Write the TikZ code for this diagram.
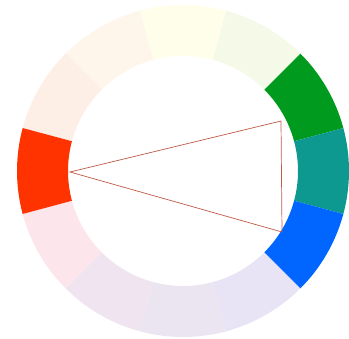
\documentclass[tikz,border=0pt]{standalone}
\definecolor{wheelred}{HTML}{FF3300}
\definecolor{wheelgreen}{HTML}{009A1E}
\definecolor{wheelteal}{HTML}{0E9990}
\definecolor{wheelblue}{HTML}{0066FF}
\definecolor{triline}{HTML}{BF5A45}
\definecolor{paleA}{HTML}{F5FAE8}
\definecolor{paleB}{HTML}{FFFEEB}
\definecolor{paleC}{HTML}{FEF6EA}
\definecolor{paleD}{HTML}{FDEEE6}
\definecolor{paleE}{HTML}{FCE5EB}
\definecolor{paleF}{HTML}{EFE4F0}
\definecolor{paleG}{HTML}{EAE5F0}
\definecolor{paleH}{HTML}{E8E4F5}
\begin{document}
\begin{tikzpicture}[x=0.03cm, y=0.03cm]

  \useasboundingbox (-183,-167) rectangle (166,171);

  % -- Pale ring segments --
  \foreach \a/\c in {45/paleA, 75/paleB, 105/paleC, 135/paleD,
                     195/paleE, 225/paleF, 255/paleG, 285/paleH}
    \fill[\c] (\a:115) arc (\a:\a+30:115) -- (\a+30:166) arc (\a+30:\a:166) -- cycle;

  % -- Highlighted segments --
  \fill[wheelred] (165:115) arc (165:195:115) -- (195:166) arc (195:165:166) -- cycle;
  \fill[wheelgreen] (15:115) arc (15:45:115) -- (45:166) arc (45:15:166) -- cycle;
  \fill[wheelteal] (-15:115) arc (-15:15:115) -- (15:166) arc (15:-15:166) -- cycle;
  \fill[wheelblue] (-45:115) arc (-45:-15:115) -- (-15:166) arc (-15:-45:166) -- cycle;

  % -- Triangle --
  \coordinate (tri left) at (-113,-1);
  \coordinate (tri top) at (98,50);
  \coordinate (tri bottom) at (99,-61);
  \draw[triline, line width=0.6pt] (tri left) -- (tri top) -- (tri bottom) -- cycle;

\end{tikzpicture}
\end{document}
